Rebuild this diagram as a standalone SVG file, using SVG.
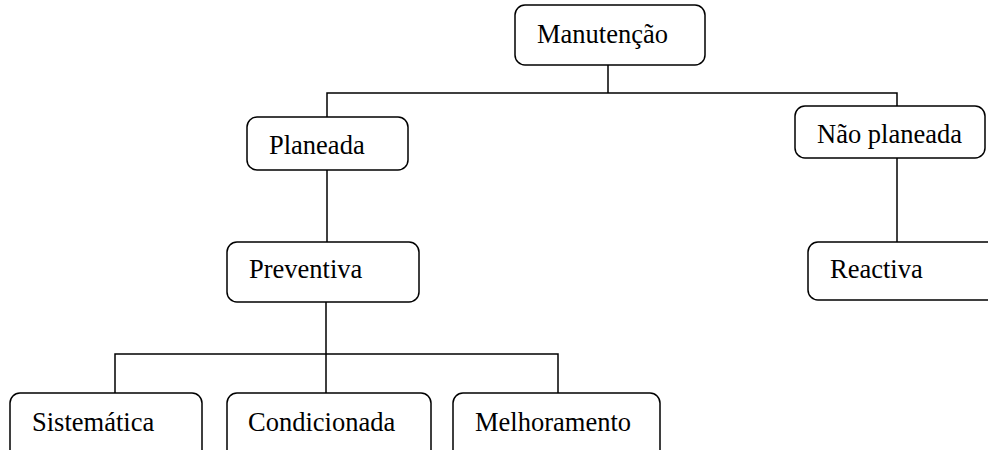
<svg xmlns="http://www.w3.org/2000/svg" width="988" height="450" viewBox="0 0 988 450">
<style>
.box{fill:#fff;stroke:#000;stroke-width:1.5}
.lbl{font-family:"Liberation Serif","Times New Roman",serif;font-size:26.5px;fill:#000}
.ln{fill:none;stroke:#000;stroke-width:1.5}
</style>
<rect width="988" height="450" fill="#fff"/>
<g id="connectors">
<path class="ln" d="M608 65V93M327 117V93H897V106"/>
<path class="ln" d="M327 170V242"/>
<path class="ln" d="M897 158V242"/>
<path class="ln" d="M326 302V393M115 393V354H558V393"/>
</g>
<g id="manutencao"><rect class="box" x="515" y="5" width="190" height="60" rx="10"/><text class="lbl" x="537" y="43">Manutenção</text></g>
<g id="planeada"><rect class="box" x="247" y="117" width="161" height="53" rx="10"/><text class="lbl" x="269" y="154">Planeada</text></g>
<g id="nao-planeada"><rect class="box" x="795" y="106" width="190" height="52" rx="10"/><text class="lbl" x="817" y="143">Não planeada</text></g>
<g id="preventiva"><rect class="box" x="227" y="242" width="192" height="60" rx="10"/><text class="lbl" x="249" y="278">Preventiva</text></g>
<g id="reactiva"><rect class="box" x="808" y="242" width="190" height="58" rx="10"/><text class="lbl" x="830" y="278">Reactiva</text></g>
<g id="sistematica"><rect class="box" x="10" y="393" width="192" height="70" rx="10"/><text class="lbl" x="32" y="431">Sistemática</text></g>
<g id="condicionada"><rect class="box" x="227" y="393" width="204" height="70" rx="10"/><text class="lbl" x="248" y="431">Condicionada</text></g>
<g id="melhoramento"><rect class="box" x="453" y="393" width="207" height="70" rx="10"/><text class="lbl" x="475" y="431">Melhoramento</text></g>
</svg>
